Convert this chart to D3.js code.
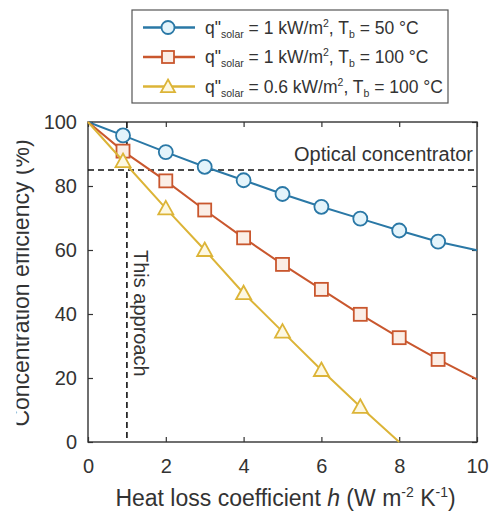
<!DOCTYPE html>
<html>
<head>
<meta charset="utf-8">
<script src="https://cdn.jsdelivr.net/npm/d3@7"></script>
<style>
  body { margin: 0; background: #fff; }
  svg text { font-family: "Liberation Sans", Arial, sans-serif; fill: #333; }
</style>
</head>
<body>
<div id="chart"></div>
<script>
// Data
const hBlue = [0, 0.9, 2, 3, 4, 5, 6, 7, 8, 9, 10];
const effBlue = [100, 95.8, 90.6, 86, 81.8, 77.5, 73.5, 69.8, 66.1, 62.6, 59.9];
const hOrange = [0, 0.9, 2, 3, 4, 5, 6, 7, 8, 9, 10];
const effOrange = [100, 90.9, 81.6, 72.5, 63.8, 55.5, 47.7, 39.9, 32.6, 25.8, 19.6];
const hYellow = [0, 0.9, 2, 3, 4, 5, 6, 7, 8];
const effYellow = [100, 87.8, 73, 60, 46.5, 34.5, 22.5, 11, 0];

const xTicks = [0, 2, 4, 6, 8, 10];
const yTicks = [0, 20, 40, 60, 80, 100];
const opticalLevel = 85;
const thisApproachH = 1;

const seriesNames = [
    { q: '1', t: '50' },
    { q: '1', t: '100' },
    { q: '0.6', t: '100' }
];

// Build the series list
const series = [
    { h: hBlue, e: effBlue, color: '#2a78a6', fill: '#e4f4fb', shape: 'circle' },
    { h: hOrange, e: effOrange, color: '#c9572e', fill: '#fbeee6', shape: 'square' },
    { h: hYellow, e: effYellow, color: '#dcb437', fill: '#fdf8e2', shape: 'triangle' }
];

const W = 491, H = 512;
const margin = { left: 88, top: 122, right: 14, bottom: 70 };
const width = W - margin.left - margin.right;
const height = H - margin.top - margin.bottom;

const svg = d3.select('#chart').append('svg')
    .attr('width', W)
    .attr('height', H);

const g = svg.append('g')
    .attr('transform', `translate(${margin.left}, ${margin.top})`);

const x = d3.scaleLinear().domain([0, 10]).range([0, width]);
const y = d3.scaleLinear().domain([0, 100]).range([height, 0]);

// Axes with inward ticks
const tickStyle = sel => {
    sel.select('.domain').remove();
    sel.selectAll('.tick line').attr('stroke', '#333').attr('stroke-width', 1.2);
    sel.selectAll('.tick text')
        .style('font-size', '20px')
        .style('font-family', '"Liberation Sans", Arial, sans-serif')
        .attr('fill', '#3a3a3a');
};

g.append('g')
    .attr('transform', `translate(0, ${height})`)
    .call(d3.axisBottom(x).tickValues(xTicks).tickSizeInner(-5).tickSizeOuter(0).tickPadding(17))
    .call(tickStyle);

g.append('g')
    .call(d3.axisTop(x).tickValues(xTicks).tickSizeInner(-5).tickSizeOuter(0).tickFormat(''))
    .call(tickStyle);

g.append('g')
    .call(d3.axisLeft(y).tickValues(yTicks).tickSizeInner(-5).tickSizeOuter(0).tickPadding(11))
    .call(tickStyle);

g.append('g')
    .attr('transform', `translate(${width}, 0)`)
    .call(d3.axisRight(y).tickValues(yTicks).tickSizeInner(-5).tickSizeOuter(0).tickFormat(''))
    .call(tickStyle);

// Frame
g.append('rect')
    .attr('width', width)
    .attr('height', height)
    .attr('fill', 'none')
    .attr('stroke', '#333')
    .attr('stroke-width', 1.4);

// Reference dashed lines
g.append('line')
    .attr('x1', x(0)).attr('x2', x(10))
    .attr('y1', y(opticalLevel)).attr('y2', y(opticalLevel))
    .attr('stroke', '#111').attr('stroke-width', 1.6)
    .attr('stroke-dasharray', '6,4');

g.append('line')
    .attr('x1', x(thisApproachH)).attr('x2', x(thisApproachH))
    .attr('y1', y(100)).attr('y2', y(0))
    .attr('stroke', '#111').attr('stroke-width', 1.6)
    .attr('stroke-dasharray', '6,4');

g.append('text')
    .attr('x', x(10) - 4)
    .attr('y', y(opticalLevel) - 9)
    .attr('text-anchor', 'end')
    .style('font-size', '20px')
    .text('Optical concentrator');

g.append('text')
    .attr('transform', `translate(${x(thisApproachH) + 7}, ${y(60)}) rotate(90)`)
    .attr('text-anchor', 'start')
    .style('font-size', '20px')
    .text('This approach');

// Marker drawing helper
function drawMarker(sel, shape, color, fill, r) {
    if (shape === 'circle') {
        sel.append('circle').attr('r', r);
    } else if (shape === 'square') {
        sel.append('rect').attr('x', -r + 0.5).attr('y', -r + 0.5).attr('width', 2 * r - 1).attr('height', 2 * r - 1);
    } else {
        const a = r + 0.5;
        sel.append('path').attr('d', `M0,${-a}L${a},${a * 0.8}L${-a},${a * 0.8}Z`);
    }
    sel.selectAll('circle, rect, path')
        .attr('fill', fill)
        .attr('stroke', color)
        .attr('stroke-width', 1.8);
}

const line = d3.line().x(d => x(d[0])).y(d => y(d[1]));

series.forEach(s => {
    const pts = s.h.map((h, i) => [h, s.e[i]]);
    g.append('path')
        .datum(pts)
        .attr('d', line)
        .attr('fill', 'none')
        .attr('stroke', s.color)
        .attr('stroke-width', 2);

    // markers at interior points only
    const mpts = pts.filter(p => p[0] > 0 && p[0] < 10 && p[1] > 0);
    mpts.forEach(p => {
        const m = g.append('g').attr('transform', `translate(${x(p[0])}, ${y(p[1])})`);
        drawMarker(m, s.shape, s.color, s.fill, 7);
    });
});

// Legend
const legend = svg.append('g').attr('transform', 'translate(132, 10)');
legend.append('rect')
    .attr('width', 316)
    .attr('height', 93)
    .attr('fill', '#fff')
    .attr('stroke', '#555')
    .attr('stroke-width', 1.2);

series.forEach((s, i) => {
    const row = legend.append('g').attr('transform', `translate(0, ${17.5 + i * 29.5})`);
    row.append('line')
        .attr('x1', 11).attr('x2', 63)
        .attr('stroke', s.color).attr('stroke-width', 2.4);
    const m = row.append('g').attr('transform', 'translate(36, 0)');
    drawMarker(m, s.shape, s.color, s.fill, 6.5);

    const t = row.append('text')
        .attr('x', 73)
        .attr('y', 6)
        .style('font-size', '17.5px');
    t.append('tspan').text('q"');
    t.append('tspan').attr('dy', 4).style('font-size', '10.5px').text('solar');
    t.append('tspan').attr('dy', -4).text(` = ${seriesNames[i].q} kW/m`);
    t.append('tspan').attr('dy', -7).style('font-size', '10.5px').text('2');
    t.append('tspan').attr('dy', 7).text(', T');
    t.append('tspan').attr('dy', 4).style('font-size', '10.5px').text('b');
    t.append('tspan').attr('dy', -4).text(` = ${seriesNames[i].t} °C`);
});

// Axis titles
const xt = svg.append('text')
    .attr('x', margin.left + width / 2 + 3)
    .attr('y', 506)
    .attr('text-anchor', 'middle')
    .style('font-size', '23px')
    .attr('fill', '#3a3a3a');
xt.append('tspan').text('Heat loss coefficient ');
xt.append('tspan').style('font-style', 'italic').text('h');
xt.append('tspan').text(' (W m');
xt.append('tspan').attr('dy', -9).style('font-size', '14px').text('-2');
xt.append('tspan').attr('dy', 9).text(' K');
xt.append('tspan').attr('dy', -9).style('font-size', '14px').text('-1');
xt.append('tspan').attr('dy', 9).text(')');

// y title, its top edge cut off as in the source image
svg.append('clipPath').attr('id', 'ycut')
    .append('rect').attr('x', 16.5).attr('y', 0).attr('width', 60).attr('height', H);

svg.append('g')
    .attr('clip-path', 'url(#ycut)')
    .append('text')
    .attr('transform', 'translate(29, 283) rotate(-90)')
    .attr('text-anchor', 'middle')
    .style('font-size', '23px')
    .attr('fill', '#4a4a4a')
    .text('Concentration efficiency (%)');
</script>
</body>
</html>
